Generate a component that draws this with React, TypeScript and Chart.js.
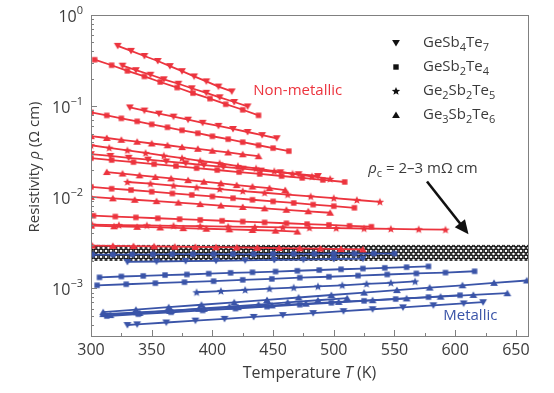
import React, { useEffect, useRef } from 'react';
import { Chart, registerables } from 'chart.js';

Chart.register(...registerables);

const RED = 'rgb(236,52,62)';
const BLUE = 'rgb(58,84,168)';
const AXIS = '#808080';
const TEXT = '#3a3a3a';
const FAM = '"Open Sans", "Noto Sans", sans-serif';

type P = [number, number];
type Kind = 'down' | 'rect' | 'star' | 'up';

// Temperature ticks (K) and resistivity decades (ohm cm)
const xMajorTicks = [300, 350, 400, 450, 500, 550, 600, 650];
const yDecades = [1, 0.1, 0.01, 0.001];
const yDecadeLabels = ['0', '\u22121', '\u22122', '\u22123'];
const bandLow = 0.002;
const bandHigh = 0.003;

// Non-metallic (red) curves: [T (K), rho (ohm cm)]
const red1: P[] = [[322,0.459],[333,0.404],[344,0.355],[355,0.313],[365,0.275],[375,0.242],[385,0.212],[395,0.187],[405,0.164],[416,0.145]];
const red2: P[] = [[303,0.323],[317,0.281],[330,0.244],[344,0.212],[357,0.184],[371,0.160],[384,0.139],[398,0.121],[411,0.105],[425,0.0912],[438,0.0792]];
const red3: P[] = [[326,0.278],[337,0.248],[349,0.221],[360,0.197],[372,0.176],[383,0.157],[395,0.140],[406,0.125],[418,0.111],[429,0.0993]];
const red4: P[] = [[332,0.0968],[344,0.0895],[356,0.0828],[368,0.0767],[380,0.0710],[392,0.0656],[405,0.0607],[417,0.0561],[429,0.0520],[441,0.0481],[453,0.0444]];
const red5: P[] = [[300,0.0853],[313,0.0791],[325,0.0734],[338,0.0681],[350,0.0631],[363,0.0586],[375,0.0543],[388,0.0504],[400,0.0467],[413,0.0434],[425,0.0402],[438,0.0372],[450,0.0346],[463,0.0321]];
const red6: P[] = [[300,0.0468],[313,0.0447],[325,0.0427],[338,0.0407],[350,0.0389],[363,0.0372],[375,0.0355],[388,0.0340],[400,0.0324],[413,0.0310],[425,0.0296],[438,0.0282]];
const red7: P[] = [[300,0.0372],[315,0.0349],[330,0.0327],[345,0.0306],[360,0.0286],[375,0.0269],[390,0.0251],[406,0.0236],[421,0.0220],[436,0.0207],[451,0.0193],[466,0.0181],[482,0.0169],[497,0.0159]];
const red8: P[] = [[300,0.0297],[316,0.0284],[331,0.0271],[347,0.0259],[362,0.0247],[378,0.0236],[393,0.0225],[409,0.0215],[425,0.0206],[440,0.0196],[456,0.0188],[471,0.0179],[487,0.0171]];
const red9: P[] = [[300,0.0269],[317,0.0256],[335,0.0243],[352,0.0231],[370,0.0220],[387,0.0209],[404,0.0199],[422,0.0189],[439,0.0180],[457,0.0171],[474,0.0163],[491,0.0155],[509,0.0147]];
const red10: P[] = [[313,0.0189],[326,0.0182],[340,0.0174],[353,0.0167],[366,0.0161],[380,0.0154],[393,0.0148],[407,0.0142],[420,0.0136],[433,0.0131],[447,0.0126],[460,0.0120]];
const red11: P[] = [[330,0.0147],[349,0.0141],[368,0.0134],[387,0.0128],[406,0.0123],[425,0.0117],[443,0.0112],[462,0.0107],[481,0.0102],[500,0.00977],[519,0.00933],[538,0.00891]];
const red12: P[] = [[300,0.0130],[317,0.0124],[333,0.0120],[350,0.0115],[367,0.0110],[383,0.0106],[400,0.0102],[417,0.00977],[433,0.00938],[450,0.00900],[467,0.00865],[483,0.00830],[500,0.00798],[517,0.00766]];
const red13: P[] = [[300,0.0101],[318,0.00973],[336,0.00938],[354,0.00906],[372,0.00873],[390,0.00841],[407,0.00811],[425,0.00782],[443,0.00755],[461,0.00728],[479,0.00701],[497,0.00676]];
const red14: P[] = [[302,0.00627],[320,0.00614],[337,0.00601],[355,0.00588],[373,0.00575],[390,0.00564],[408,0.00552],[425,0.00541],[443,0.00529],[461,0.00518],[478,0.00507],[496,0.00497],[513,0.00485],[531,0.00475]];
const red15: P[] = [[301,0.00500],[323,0.00495],[346,0.00491],[368,0.00486],[390,0.00481],[413,0.00476],[435,0.00472],[458,0.00467],[480,0.00462],[502,0.00458],[525,0.00454],[547,0.00450],[570,0.00445],[592,0.00441]];
const red16: P[] = [[300,0.00488],[319,0.00480],[338,0.00473],[357,0.00466],[376,0.00458],[395,0.00451],[414,0.00444],[433,0.00437],[452,0.00430],[470,0.00420]];
const red17: P[] = [[301,0.00295],[318,0.00293],[335,0.00291],[352,0.00289],[369,0.00287],[386,0.00285],[403,0.00283],[420,0.00281],[437,0.00279],[455,0.00277],[472,0.00275],[489,0.00273],[506,0.00270],[524,0.00267]];

// Metallic (blue) curves
const blue1: P[] = [[301,0.00235],[318,0.00235],[334,0.00236],[351,0.00236],[367,0.00237],[384,0.00237],[401,0.00237],[417,0.00238],[434,0.00238],[450,0.00239],[467,0.00239],[484,0.00239],[500,0.00240],[517,0.00240],[533,0.00241],[550,0.00241]];
const blue2: P[] = [[330,0.00195],[354,0.00197],[378,0.00199],[403,0.00201],[427,0.00203],[451,0.00205],[475,0.00207],[500,0.00210],[524,0.00212]];
const blue3: P[] = [[307,0.00132],[325,0.00135],[343,0.00137],[361,0.00140],[379,0.00142],[397,0.00145],[415,0.00148],[433,0.00150],[452,0.00153],[470,0.00156],[488,0.00159],[506,0.00162],[524,0.00165],[542,0.00168],[560,0.00171],[578,0.00174]];
const blue4: P[] = [[305,0.00108],[329,0.00111],[353,0.00114],[377,0.00117],[401,0.00120],[425,0.00124],[449,0.00127],[472,0.00131],[496,0.00134],[520,0.00138],[544,0.00142],[568,0.00146],[592,0.00149],[616,0.00154]];
const blue5: P[] = [[387,0.000906],[407,0.000934],[427,0.000962],[447,0.000991],[467,0.00102],[487,0.00105],[507,0.00108],[527,0.00112],[547,0.00115],[567,0.00119]];
const blue6: P[] = [[310,0.000548],[337,0.000583],[364,0.000621],[391,0.000661],[418,0.000702],[445,0.000746],[471,0.000794],[498,0.000845],[525,0.000899],[552,0.000957],[579,0.00102],[606,0.00108],[632,0.00115],[659,0.00122]];
const blue7: P[] = [[310,0.000522],[338,0.000546],[366,0.000570],[393,0.000596],[421,0.000622],[449,0.000650],[477,0.000679],[504,0.000710],[532,0.000741],[560,0.000776],[588,0.000811],[615,0.000847],[643,0.000885]];
const blue8: P[] = [[313,0.000497],[339,0.000521],[366,0.000547],[392,0.000573],[419,0.000601],[445,0.000631],[472,0.000662],[498,0.000695],[525,0.000729],[551,0.000764],[578,0.000802],[604,0.000841]];
const blue9: P[] = [[316,0.000509],[340,0.000537],[365,0.000566],[389,0.000597],[414,0.000630],[438,0.000664],[462,0.000702],[487,0.000740],[511,0.000780]];
const blue10: P[] = [[330,0.000396],[338,0.000403],[362,0.000422],[386,0.000443],[410,0.000463],[434,0.000486],[458,0.000509],[483,0.000535],[508,0.000562],[532,0.000590],[557,0.000619],[582,0.000652],[607,0.000684],[623,0.000705]];

const redSeries: [P[], Kind][] = [
  [red1, 'down'], [red2, 'rect'], [red3, 'down'], [red4, 'down'], [red5, 'rect'], [red6, 'up'],
  [red7, 'star'], [red8, 'down'], [red9, 'rect'], [red10, 'up'], [red11, 'star'], [red12, 'rect'],
  [red13, 'up'], [red14, 'rect'], [red15, 'star'], [red16, 'up'], [red17, 'up'],
];
const blueSeries: [P[], Kind][] = [
  [blue1, 'rect'], [blue2, 'down'], [blue3, 'rect'], [blue4, 'rect'], [blue5, 'star'],
  [blue6, 'up'], [blue7, 'up'], [blue8, 'rect'], [blue9, 'up'], [blue10, 'down'],
];

type Part = { t: string; it?: boolean; sub?: boolean; sup?: boolean };
const legendItems: [Kind, Part[]][] = [
  ['down', [{ t: 'GeSb' }, { t: '4', sub: true }, { t: 'Te' }, { t: '7', sub: true }]],
  ['rect', [{ t: 'GeSb' }, { t: '2', sub: true }, { t: 'Te' }, { t: '4', sub: true }]],
  ['star', [{ t: 'Ge' }, { t: '2', sub: true }, { t: 'Sb' }, { t: '2', sub: true }, { t: 'Te' }, { t: '5', sub: true }]],
  ['up', [{ t: 'Ge' }, { t: '3', sub: true }, { t: 'Sb' }, { t: '2', sub: true }, { t: 'Te' }, { t: '6', sub: true }]],
];

function makeMarker(kind: Kind, color: string): HTMLCanvasElement {
  const c = document.createElement('canvas');
  c.width = 10; c.height = 10;
  const g = c.getContext('2d')!;
  g.fillStyle = color;
  g.beginPath();
  const cx = 5, cy = 5;
  if (kind === 'down') {
    g.moveTo(cx - 3.9, cy - 3); g.lineTo(cx + 3.9, cy - 3); g.lineTo(cx, cy + 3.6); g.closePath();
  } else if (kind === 'up') {
    g.moveTo(cx - 3.9, cy + 3); g.lineTo(cx + 3.9, cy + 3); g.lineTo(cx, cy - 3.6); g.closePath();
  } else if (kind === 'rect') {
    g.rect(cx - 2.7, cy - 2.7, 5.4, 5.4);
  } else {
    for (let i = 0; i < 10; i++) {
      const r = i % 2 === 0 ? 4.4 : 1.9;
      const a = -Math.PI / 2 + (i * Math.PI) / 5;
      const px = cx + r * Math.cos(a), py = cy + 0.3 + r * Math.sin(a);
      if (i === 0) g.moveTo(px, py); else g.lineTo(px, py);
    }
    g.closePath();
  }
  g.fill();
  return c;
}

function drawRich(ctx: CanvasRenderingContext2D, parts: Part[], x: number, y: number, fs: number, color: string, align: 'left' | 'center' | 'right') {
  const fontOf = (p: Part) => `${p.it ? 'italic ' : ''}${p.sub || p.sup ? Math.round(fs * 0.7) : fs}px ${FAM}`;
  let w = 0;
  for (const p of parts) { ctx.font = fontOf(p); w += ctx.measureText(p.t).width; }
  let cx = align === 'left' ? x : align === 'center' ? x - w / 2 : x - w;
  ctx.textBaseline = 'middle';
  ctx.textAlign = 'left';
  ctx.fillStyle = color;
  for (const p of parts) {
    ctx.font = fontOf(p);
    const dy = p.sub ? fs * 0.33 : p.sup ? -fs * 0.4 : 0;
    ctx.fillText(p.t, cx, y + dy);
    cx += ctx.measureText(p.t).width;
  }
}

function makeBandPattern(ctx: CanvasRenderingContext2D): CanvasPattern | string {
  const t = document.createElement('canvas');
  t.width = 5; t.height = 6;
  const g = t.getContext('2d')!;
  g.fillStyle = '#fff';
  g.fillRect(0, 0, 5, 6);
  g.strokeStyle = '#111';
  g.lineWidth = 1.1;
  const rings: P[] = [[2.5, 3], [0, 0], [5, 0], [0, 6], [5, 6]];
  for (const [x, y] of rings) {
    g.beginPath(); g.arc(x, y, 1.9, 0, Math.PI * 2); g.stroke();
  }
  return ctx.createPattern(t, 'repeat') || '#333';
}

const decorPlugin = {
  id: 'decor',
  beforeDatasetsDraw(chart: any) {
    const { ctx, chartArea: a, scales } = chart;
    const y = scales.y;
    const top = y.getPixelForValue(bandHigh);
    const bot = y.getPixelForValue(bandLow);
    ctx.save();
    ctx.translate(a.left, top);
    ctx.fillStyle = makeBandPattern(ctx);
    ctx.fillRect(0, 0, a.right - a.left, bot - top);
    ctx.restore();
  },
  afterDraw(chart: any) {
    const { ctx, chartArea: a, scales } = chart;
    const xs = scales.x, ys = scales.y;
    ctx.save();
    // frame
    ctx.strokeStyle = AXIS;
    ctx.lineWidth = 1;
    ctx.strokeRect(Math.round(a.left) + 0.5, Math.round(a.top) + 0.5, Math.round(a.right - a.left), Math.round(a.bottom - a.top));
    // x ticks
    ctx.beginPath();
    for (let v = 300; v <= 660; v += 25) {
      const px = Math.round(xs.getPixelForValue(v)) + 0.5;
      const len = v % 50 === 0 ? 6 : 3;
      ctx.moveTo(px, a.bottom); ctx.lineTo(px, a.bottom - len);
    }
    // y ticks
    for (let e = -4; e <= 0; e++) {
      for (let k = 1; k <= 9; k++) {
        const v = k * Math.pow(10, e);
        if (v < ys.min * 0.999 || v > ys.max * 1.001) continue;
        const py = Math.round(ys.getPixelForValue(v)) + 0.5;
        const len = k === 1 ? 6 : 3;
        ctx.moveTo(a.left, py); ctx.lineTo(a.left + len, py);
      }
    }
    ctx.stroke();
    // x tick labels
    ctx.fillStyle = TEXT;
    ctx.font = `16px ${FAM}`;
    ctx.textAlign = 'center';
    ctx.textBaseline = 'middle';
    for (const v of xMajorTicks) {
      ctx.fillText(String(v), xs.getPixelForValue(v), a.bottom + 14);
    }
    // y tick labels
    yDecades.forEach((v, i) => {
      const py = ys.getPixelForValue(v);
      drawRich(ctx, [{ t: '10' }, { t: yDecadeLabels[i], sup: true }], a.left - 8, py + 2, 16, TEXT, 'right');
    });
    // axis titles
    drawRich(ctx, [{ t: 'Temperature ' }, { t: 'T', it: true }, { t: ' (K)' }], (a.left + a.right) / 2, 373, 16, TEXT, 'center');
    ctx.save();
    ctx.translate(35, 167);
    ctx.rotate(-Math.PI / 2);
    drawRich(ctx, [{ t: 'Resistivity ' }, { t: '\u03C1', it: true }, { t: ' (\u03A9 cm)' }], 0, 0, 15, TEXT, 'center');
    ctx.restore();
    // legend
    legendItems.forEach(([kind, parts], i) => {
      const ly = a.top + 28 + i * 24;
      const m = makeMarker(kind, '#111');
      ctx.drawImage(m, a.left + 305 - 5, ly - 5);
      drawRich(ctx, parts, a.left + 332, ly, 15, TEXT, 'left');
    });
    // annotations
    drawRich(ctx, [{ t: 'Non-metallic' }], xs.getPixelForValue(433.7), ys.getPixelForValue(0.148), 15, RED, 'left');
    drawRich(ctx, [{ t: 'Metallic' }], xs.getPixelForValue(590.2), ys.getPixelForValue(0.000502), 15, BLUE, 'left');
    drawRich(ctx, [{ t: '\u03C1', it: true }, { t: 'c', sub: true }, { t: ' = 2\u20133 m\u03A9 cm' }], xs.getPixelForValue(528.4), ys.getPixelForValue(0.0205), 15, TEXT, 'left');
    // arrow
    const x0 = xs.getPixelForValue(576.8), y0 = ys.getPixelForValue(0.0149);
    const x1 = xs.getPixelForValue(611), y1 = ys.getPixelForValue(0.00393);
    const ang = Math.atan2(y1 - y0, x1 - x0);
    const hl = 14, hw = 6.5;
    const bx = x1 - hl * Math.cos(ang), by = y1 - hl * Math.sin(ang);
    ctx.strokeStyle = '#111';
    ctx.fillStyle = '#111';
    ctx.lineWidth = 2.6;
    ctx.beginPath(); ctx.moveTo(x0, y0); ctx.lineTo(bx + 2 * Math.cos(ang), by + 2 * Math.sin(ang)); ctx.stroke();
    ctx.beginPath();
    ctx.moveTo(x1, y1);
    ctx.lineTo(bx + hw * Math.sin(ang), by - hw * Math.cos(ang));
    ctx.lineTo(bx - hw * Math.sin(ang), by + hw * Math.cos(ang));
    ctx.closePath(); ctx.fill();
    ctx.restore();
  },
};

export default function App() {
  const ref = useRef<HTMLCanvasElement | null>(null);
  useEffect(() => {
    document.body.style.margin = '0';
    const canvas = ref.current!;
    const mk = (pts: P[], kind: Kind, color: string) => ({
      data: pts.map(([x, y]) => ({ x, y })),
      borderColor: color,
      backgroundColor: color,
      borderWidth: 1.8,
      pointStyle: makeMarker(kind, color),
      pointRadius: 4,
      fill: false,
      tension: 0,
    });
    const datasets = [
      ...blueSeries.map(([p, k]) => mk(p, k, BLUE)),
      ...redSeries.map(([p, k]) => mk(p, k, RED)),
    ];
    const chart = new Chart(canvas, {
      type: 'line',
      data: { datasets: datasets as any },
      options: {
        animation: false,
        responsive: false,
        events: [],
        layout: { padding: { left: 91, top: 15, right: 26, bottom: 57 } },
        plugins: { legend: { display: false }, tooltip: { enabled: false } },
        scales: {
          x: { type: 'linear', min: 300, max: 660, display: false },
          y: { type: 'logarithmic', min: 3.16e-4, max: 1, display: false },
        },
      },
      plugins: [decorPlugin as any],
    });
    return () => chart.destroy();
  }, []);
  return (
    <div style={{ width: 554, height: 393, position: 'relative', background: '#fff' }}>
      <canvas ref={ref} width={554} height={393} style={{ display: 'block' }} />
    </div>
  );
}
